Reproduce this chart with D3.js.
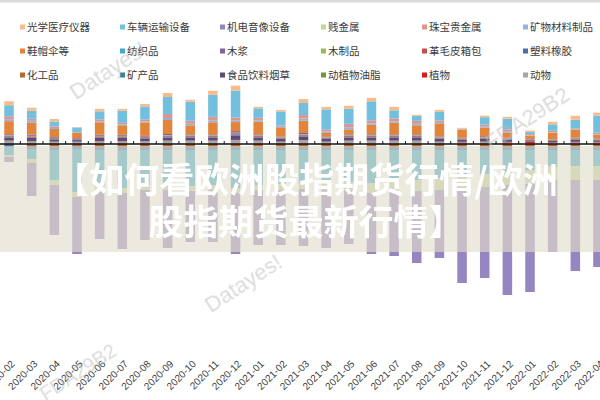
<!DOCTYPE html>
<html><head><meta charset="utf-8">
<script src="https://cdn.jsdelivr.net/npm/d3@7/dist/d3.min.js"></script>
<style>body{margin:0;background:#fff}svg{display:block}</style>
</head><body><svg id="c" width="600" height="400"></svg>
<script>
const months = ["2020-02","2020-03","2020-04","2020-05","2020-06","2020-07","2020-08","2020-09","2020-10","2020-11","2020-12","2021-01","2021-02","2021-03","2021-04","2021-05","2021-06","2021-07","2021-08","2021-09","2021-10","2021-11","2021-12","2022-01","2022-02","2022-03","2022-04"];
const legendNames = ["光学医疗仪器","车辆运输设备","机电音像设备","贱金属","珠宝贵金属","矿物材料制品","鞋帽伞等","纺织品","木浆","木制品","革毛皮箱包","塑料橡胶","化工品","矿产品","食品饮料烟草","动植物油脂","植物","动物"];
const seriesColors = ["#f8bb8c","#72c0dd","#9585c0","#c3d69b","#d99694","#95b3d7","#e2843a","#3fa9c6","#8064a2","#9bbb59","#c0504d","#4a6fae","#b3692f","#31859c","#5f497a","#77933c","#d9181d","#a6a6a6"];

const optical   = [0.4,0.3,0.25,0.05,0.25,0.2,0.25,0.4,0.2,0.4,0.5,0.15,0.15,0.4,0.25,0.3,0.35,0.35,0.1,0.2,0.1,0.15,0.2,0.15,0.25,0.4,0.3];
const vehicles  = [1.1,0.8,0.5,0.45,0.8,1.2,1.3,1.7,1.9,2.2,2.7,0.95,1.4,1.2,2.0,1.5,1.9,0.8,0.5,0.85,0,0.75,1.05,0.2,0.65,0.85,1.7];
const machinery = [-0.5,-3.3,-5.0,-5.7,-4.8,-5.6,-5.0,-5.8,-5.1,-5.2,-6.1,-5.5,-5.5,-5.7,-5.8,-5.4,-6.1,-6.4,-7.2,-6.8,-9.5,-9.1,-11.0,-10.8,-7.2,-9.1,-8.7];
const baseMetal = [-0.2,-0.4,-0.5,-0.5,-0.5,-0.5,-0.5,-0.5,-0.5,-0.5,-0.5,-0.5,-0.6,-0.6,-0.7,-0.8,-1.0,-1.0,-1.1,-1.2,-1.2,-1.3,-1.3,-1.4,-1.4,-1.4,-1.4];
const jewelry   = [0.3,0.2,0.15,0.05,0.2,0.15,0.2,0.4,0.3,0.35,0.3,0.25,0.15,0.35,0.2,0.35,0.3,0.3,0.3,0.25,0.05,0.2,0.25,0.1,0.15,0.1,0.15];
const mineralMat= [0.2,0.2,0.1,0.05,0.1,0.1,0.1,0.2,0.15,0.2,0.15,0.15,0.1,0.2,0.15,0.2,0.15,0.15,0.15,0.1,0.05,0.1,0.1,0.05,0.05,0.05,0.05];
const footwear  = [1.3,1.2,0.8,0.5,1.25,0.95,1.35,1.4,0.9,1.2,0.9,1.25,0.85,1.25,0.35,0.5,0.95,1.15,0.9,1.25,0.8,0.85,0.5,0.35,0.65,0.8,0.4];
const textiles  = [-0.8,-1.0,-3.0,-4.3,-3.6,-3.8,-3.5,-3.5,-3.6,-3.5,-3.8,-3.5,-3.4,-3.3,-3.3,-3.2,-3.3,-3.2,-3.0,-2.8,-2.6,-2.4,-2.2,-2.0,-1.6,-1.6,-1.6];
const pulp      = [0.1,0.1,0.08,0.07,0.1,0.1,0.08,0.12,0.1,0.1,0.15,0.1,0.08,0.12,0.08,0.1,0.1,0.1,0.1,0.08,0.06,0.08,0.06,0.04,0.05,0.06,0.05];
const wood      = [0.05,0.05,0.04,0.03,0.05,0.05,0.04,0.05,0.05,0.05,0.06,0.05,0.04,0.05,0.04,0.05,0.05,0.05,0.05,0.04,0.03,0.04,0.03,0.02,0.02,0.03,0.02];
const leather   = [0.1,0.1,0.08,0.06,0.1,0.1,0.08,0.1,0.1,0.1,0.12,0.1,0.08,0.1,0.08,0.1,0.1,0.1,0.1,0.08,0.06,0.08,0.06,0.03,0.04,0.06,0.05];
const plastics  = [-0.2,-0.3,-0.3,-0.3,-0.3,-0.3,-0.3,-0.3,-0.3,-0.3,-0.3,-0.3,-0.3,-0.3,-0.3,-0.3,-0.3,-0.3,-0.3,-0.3,-0.3,-0.3,-0.3,-0.3,-0.3,-0.3,-0.3];
const chemicals = [-0.1,-0.2,-0.3,-0.2,-0.3,-0.3,-0.3,-0.3,-0.3,-0.3,-0.3,-0.3,-0.3,-0.3,-0.3,-0.3,-0.3,-0.3,-0.3,-0.3,-0.3,-0.3,-0.3,-0.3,-0.3,-0.3,-0.3];
const minerals  = [0.08,0.07,0.05,0.05,0.07,0.07,0.06,0.08,0.07,0.07,0.1,0.07,0.06,0.08,0.06,0.07,0.07,0.07,0.07,0.06,0.05,0.06,0.05,0.03,0.04,0.05,0.04];
const food      = [0.3,0.3,0.2,0.15,0.3,0.3,0.25,0.3,0.3,0.3,0.45,0.3,0.25,0.35,0.25,0.3,0.3,0.3,0.3,0.25,0.2,0.25,0.2,0.1,0.15,0.2,0.15];
const oils      = [0.02,0.02,0.02,0.02,0.02,0.02,0.02,0.02,0.02,0.02,0.03,0.02,0.02,0.02,0.02,0.02,0.02,0.02,0.02,0.02,0.02,0.02,0.02,0.02,0.02,0.02,0.02];
const plants    = [0.03,0.03,0.03,0.02,0.03,0.03,0.03,0.03,0.03,0.03,0.03,0.03,0.03,0.03,0.03,0.03,0.03,0.03,0.03,0.03,0.05,0.05,0.05,0.15,0.05,0.05,0.05];
const animals   = [0.3,0.25,0.2,0.2,0.25,0.25,0.25,0.3,0.3,0.3,0.35,0.3,0.2,0.35,0.2,0.3,0.3,0.3,0.3,0.2,0.15,0.2,0.15,0.1,0.1,0.15,0.15];

const titleLines = ["【如何看欧洲股指期货行情/欧洲","股指期货最新行情】"];

const seriesValues = [optical,vehicles,machinery,baseMetal,jewelry,mineralMat,footwear,textiles,pulp,wood,leather,plastics,chemicals,minerals,food,oils,plants,animals];

const table = months.map((m,i)=>{const row={month:m};legendNames.forEach((n,k)=>row[n]=seriesValues[k][i]);return row;});
const stackKeys = legendNames.slice().reverse();
const stacked = d3.stack().keys(stackKeys).offset(d3.stackOffsetDiverging)(table);
const colorOf = d3.scaleOrdinal().domain(legendNames).range(seriesColors);

const svg = d3.select("#c");
svg.append("rect").attr("x",0).attr("y",0).attr("width",600).attr("height",2.5).attr("fill","#dadada");

const x = d3.scaleBand().domain(months).range([-2.3,609.3]).paddingInner(0.58).paddingOuter(0.29);
const y = d3.scaleLinear().domain([-20,6]).range([344,84]);

// legend
const colX=[20,120,220,321,422,523], rowY=[27,51,75];
const lg = svg.append("g");
legendNames.forEach((n,k)=>{
  const cx = colX[k%6], cy=rowY[Math.floor(k/6)];
  lg.append("rect").attr("x",cx).attr("y",cy-2.5).attr("width",5).attr("height",5).attr("fill",seriesColors[k]);
  lg.append("text").attr("x",cx+7).attr("y",cy).attr("dy","0.36em").attr("font-family","'Noto Sans CJK SC', sans-serif")
    .attr("font-size",10.5).attr("fill","#3a3a3a").text(n);
});

// bars
const bars = svg.append("g");
stacked.forEach(s=>{
  bars.selectAll(null).data(s).enter().append("rect")
    .attr("x",d=>x(d.data.month)).attr("width",x.bandwidth())
    .attr("y",d=>y(Math.max(d[0],d[1]))).attr("height",d=>Math.abs(y(d[0])-y(d[1])))
    .attr("fill",colorOf(s.key));
});

// axis line with ticks between categories
const ax = svg.append("g");
ax.append("line").attr("x1",0).attr("x2",600).attr("y1",y(0)).attr("y2",y(0)).attr("stroke","#111").attr("stroke-width",1.3);
const half = x.step()*x.paddingInner()/2;
ax.selectAll(null).data(months).enter().append("line")
  .attr("x1",d=>x(d)-half).attr("x2",d=>x(d)-half).attr("y1",y(0)-3).attr("y2",y(0)).attr("stroke","#111").attr("stroke-width",1);

// x labels
svg.append("g").selectAll(null).data(months).enter().append("text")
  .attr("transform",d=>`translate(${x(d)+x.bandwidth()/2+4},362) rotate(-45)`)
  .attr("text-anchor","end").attr("dy","0.35em")
  .attr("font-family","'Liberation Sans', Arial, sans-serif").attr("font-size",10).attr("fill","#404040").text(d=>d);

// watermarks
const wm = svg.append("g").attr("font-family","'Liberation Sans', Arial, sans-serif").attr("fill","#bdbdbd").attr("opacity",0.55);
[["Datayes!",108,70,22],["Datayes!",243,283,22],["FDA29B2",527,118,22],["FDA29B2",78,372,20]].forEach(w=>{
  wm.append("text").attr("transform",`translate(${w[1]},${w[2]}) rotate(-33)`).attr("text-anchor","middle").attr("dy","0.35em").attr("font-size",w[3]).text(w[0]);
});

// overlay band
svg.append("rect").attr("x",0).attr("y",146).attr("width",600).attr("height",106).attr("fill","rgb(225,220,203)").attr("fill-opacity",0.64);
svg.append("g").selectAll(null).data(titleLines).enter().append("text")
  .attr("x",306).attr("y",(d,i)=>180+i*42).attr("dy","0.36em").attr("text-anchor","middle")
  .attr("font-family","'Noto Sans CJK SC', sans-serif").attr("font-weight",700).attr("font-size",35)
  .attr("fill","#fff").text(d=>d);
</script></body></html>
